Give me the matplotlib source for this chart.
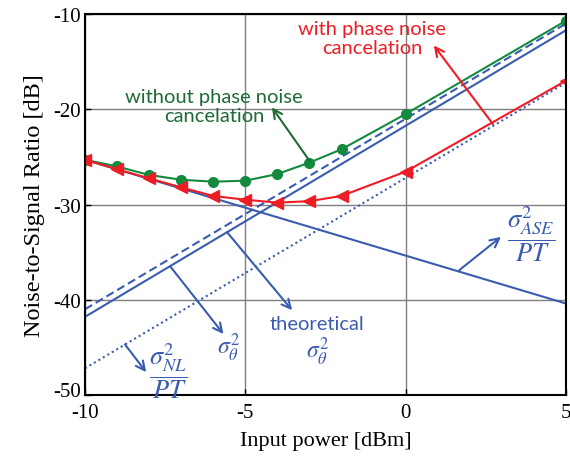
import numpy as np
import matplotlib
matplotlib.use('Agg')
import matplotlib.pyplot as plt
import matplotlib.transforms as mtransforms

plt.rcParams['mathtext.fontset'] = 'stix'
plt.rcParams['axes.unicode_minus'] = False

# measured points
x_meas = [-10, -9, -8, -7, -6, -5, -4, -3, -2, 0, 5]
without_pnc = [-25.3, -26.0, -26.9, -27.4, -27.6, -27.5, -26.8, -25.6, -24.2, -20.5, -10.7]
with_pnc = [-25.3, -26.3, -27.25, -28.2, -29.1, -29.5, -29.8, -29.65, -29.1, -26.55, -17.0]

# theoretical curves (end points)
x_th = [-10, 5]
ase_pt = [-25.3, -40.4]
sigma_theta = [-41.8, -11.7]
sigma_theta_th = [-41.0, -11.0]
nl_pt = [-47.2, -17.2]

green = '#138a3e'
dgreen = '#1d6b35'
red = '#ee1c24'
blue = '#3a5cb0'

fig = plt.figure(figsize=(5.7, 4.64), dpi=100)
ax = fig.add_axes([0.149, 0.1466, 0.844, 0.821])

ax.plot(x_th, ase_pt, color=blue, lw=1.5)
ax.plot(x_th, sigma_theta, color=blue, lw=1.5)
ax.plot(x_th, sigma_theta_th, color=blue, lw=1.5, ls=(0, (4, 2)))
ax.plot(x_th, nl_pt, color=blue, lw=1.5, ls=(0, (1, 1.5)))
ax.plot(x_meas, without_pnc, color=green, lw=1.5, marker='o', ms=7)
ax.plot(x_meas, with_pnc, color=red, lw=1.5, marker='<', ms=8)

ax.set_xlim(-10, 5)
ax.set_ylim(-50, -10)
ax.set_xticks([-10, -5, 0, 5])
ax.set_yticks([-50, -40, -30, -20, -10])
ax.grid(True, color='#7f7f7f', lw=1)
ax.set_axisbelow(True)
ax.tick_params(direction='in', length=4, width=1, labelsize=15, pad=3)
ax.tick_params(axis='x', pad=6)
for lab in ax.get_xticklabels() + ax.get_yticklabels():
    lab.set_fontfamily('Liberation Serif')
# lift the bottom y label a little, like the reference
ylabs = ax.get_yticklabels()
ylabs[0].set_transform(ylabs[0].get_transform() +
                       mtransforms.ScaledTranslation(0, 4 / 72, fig.dpi_scale_trans))
for s in ax.spines.values():
    s.set_linewidth(1.5)
ax.set_xlabel('Input power [dBm]', family='Liberation Serif', fontsize=16, labelpad=6)
ax.set_ylabel('Noise-to-Signal Ratio [dB]', family='Liberation Serif', fontsize=17.5, labelpad=6)


def arrow(tail, head, c):
    ax.annotate('', xy=head, xytext=tail,
                arrowprops=dict(arrowstyle='->', color=c, lw=1.5, shrinkA=0, shrinkB=0,
                                mutation_scale=16))


# annotations
ax.text(-1.05, -12.5, 'with phase noise\ncancelation', color=red, fontsize=14.5,
        family='Lato', ha='center', va='center', linespacing=1.15)
arrow((2.72, -21.55), (0.88, -13.3), red)
ax.text(-5.97, -19.65, 'without phase noise\ncancelation', color=dgreen, fontsize=14.5,
        family='Lato', ha='center', va='center', linespacing=1.15)
arrow((-3.0, -25.4), (-4.17, -19.8), dgreen)

arrow((1.67, -36.9), (2.97, -33.4), blue)
ax.text(3.9, -33.0, r'$\dfrac{\sigma_{ASE}^2}{PT}$', color=blue, fontsize=19,
        ha='center', va='center')
arrow((-5.57, -32.9), (-3.54, -41.1), blue)
ax.text(-2.75, -42.5, 'theoretical', color=blue, fontsize=14.5, family='Lato',
        ha='center', va='center')
ax.text(-2.75, -45.4, r'$\sigma_\theta^2$', color=blue, fontsize=17,
        ha='center', va='center')
arrow((-7.34, -36.5), (-5.68, -43.6), blue)
ax.text(-5.52, -44.9, r'$\sigma_\theta^2$', color=blue, fontsize=17,
        ha='center', va='center')
arrow((-8.75, -44.7), (-8.09, -47.6), blue)
ax.text(-7.4, -47.4, r'$\dfrac{\sigma_{NL}^2}{PT}$', color=blue, fontsize=19,
        ha='center', va='center')

fig.savefig('out.png', dpi=100)
